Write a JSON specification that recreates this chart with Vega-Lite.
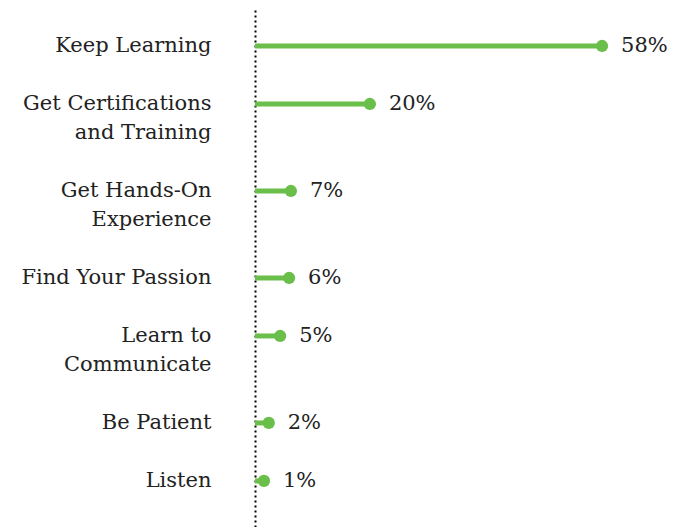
{
  "$schema": "https://vega.github.io/schema/vega-lite/v6.json",
  "width": 359,
  "height": 517,
  "autosize": {"type": "none"},
  "padding": {"left": 255, "top": 10, "right": 59, "bottom": 0},
  "background": "white",
  "config": {"view": {"stroke": null}, "font": "DejaVu Serif"},
  "data": {
    "values": [
      {"advice": "Keep Learning", "value": 58, "label": "58%"},
      {"advice": "Get Certifications", "value": 19.2, "label": "20%"},
      {"advice": "Get Hands-On", "value": 6.0, "label": "7%"},
      {"advice": "Find Your Passion", "value": 5.7, "label": "6%"},
      {"advice": "Learn to", "value": 4.2, "label": "5%"},
      {"advice": "Be Patient", "value": 2.3, "label": "2%"},
      {"advice": "Listen", "value": 1.5, "label": "1%"}
    ]
  },
  "encoding": {
    "y": {
      "field": "advice",
      "type": "nominal",
      "scale": {
        "type": "point",
        "domain": ["", "Keep Learning", " ", "Get Certifications", "and Training", "  ", "Get Hands-On", "Experience", "   ", "Find Your Passion", "    ", "Learn to", "Communicate", "     ", "Be Patient", "      ", "Listen", "       "],
        "padding": 0.414,
        "align": 0.29
      },
      "axis": {
        "title": null,
        "ticks": false,
        "grid": false,
        "domainColor": "#000000",
        "domainWidth": 2,
        "domainDash": [2, 3],
        "labelFont": "DejaVu Serif",
        "labelFontSize": 21,
        "labelColor": "#222222",
        "labelPadding": 44,
        "labelLimit": 400
      }
    },
    "x": {
      "field": "value",
      "type": "quantitative",
      "scale": {"domain": [0, 60]},
      "axis": null
    }
  },
  "layer": [
    {
      "mark": {"type": "rule", "color": "#6abf4b", "strokeWidth": 5},
      "encoding": {"x2": {"datum": 0}}
    },
    {
      "mark": {"type": "circle", "color": "#6abf4b", "opacity": 1, "size": 150}
    },
    {
      "mark": {"type": "text", "align": "left", "baseline": "middle", "dx": 19, "fontSize": 21, "color": "#222222", "font": "DejaVu Serif"},
      "encoding": {"text": {"field": "label"}}
    }
  ]
}
